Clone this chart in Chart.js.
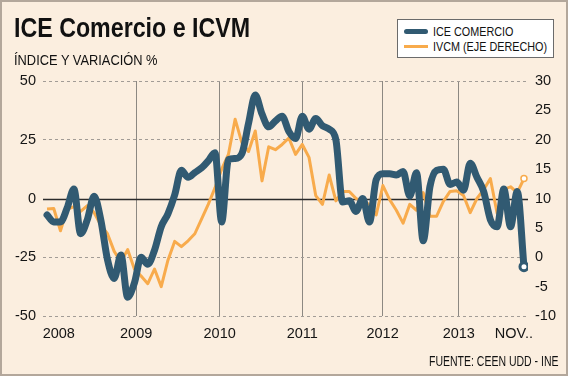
<!DOCTYPE html>
<html>
<head>
<meta charset="utf-8">
<script src="https://cdn.jsdelivr.net/npm/chart.js@4.4.1/dist/chart.umd.min.js"></script>
<style>
  body { margin: 0; background: #fbeedf; overflow: hidden; }
  #wrap { position: relative; width: 568px; height: 376px; background: #fbeedf; }
  #wrap canvas { position: absolute; left: 0; top: 0; }
  .txt { position: absolute; white-space: nowrap; line-height: 1; font-family: "Liberation Sans", Arial, sans-serif; color: #111; transform-origin: 0 0; }
  #frame { position: absolute; left: 0; top: 0; width: 564px; height: 372px; border: 2px solid #b3a79b; pointer-events: none; }
  #legend { position: absolute; left: 397px; top: 19px; width: 155px; height: 37px; background: #fff; border: 1px solid #6b6b6b; }
  .sw { position: absolute; left: 6px; width: 24px; }
</style>
</head>
<body>
<div id="wrap">
  <canvas id="chart" width="568" height="376"></canvas>
  <div class="txt" style="left:14px;top:15px;font-size:27px;font-weight:bold;transform:scaleX(0.86)">ICE Comercio e ICVM</div>
  <div class="txt" style="left:14px;top:52px;font-size:15.3px;transform:scaleX(0.84)">ÍNDICE Y VARIACIÓN %</div>
  <div id="legend">
    <div class="sw" style="top:9px;height:5px;border-radius:3px;background:#315a72"></div>
    <div class="sw" style="top:25px;height:3px;background:#f8ab4c"></div>
  </div>
  <div class="txt" style="left:433px;top:24.5px;font-size:13.5px;transform:scaleX(0.8)">ICE COMERCIO</div>
  <div class="txt" style="left:433px;top:39.5px;font-size:13.5px;transform:scaleX(0.8)">IVCM (EJE DERECHO)</div>
  <div class="txt" style="left:429px;top:352.5px;font-size:15px;transform:scaleX(0.70)">FUENTE: CEEN UDD - INE</div>
  <div id="frame"></div>
</div>
<script>
// months, dic-2007 .. nov-2013
var months = [
  'dic-07',
  'ene-08','feb-08','mar-08','abr-08','may-08','jun-08','jul-08','ago-08','sep-08','oct-08','nov-08','dic-08',
  'ene-09','feb-09','mar-09','abr-09','may-09','jun-09','jul-09','ago-09','sep-09','oct-09','nov-09','dic-09',
  'ene-10','feb-10','mar-10','abr-10','may-10','jun-10','jul-10','ago-10','sep-10','oct-10','nov-10','dic-10',
  'ene-11','feb-11','mar-11','abr-11','may-11','jun-11','jul-11','ago-11','sep-11','oct-11','nov-11','dic-11',
  'ene-12','feb-12','mar-12','abr-12','may-12','jun-12','jul-12','ago-12','sep-12','oct-12','nov-12','dic-12',
  'ene-13','feb-13','mar-13','abr-13','may-13','jun-13','jul-13','ago-13','sep-13','oct-13','nov-13'
];

// ICE Comercio (left axis)
var ice = [
  -7,
  -10, -10, -4, 4, -15, -9, 1, -9, -26, -34, -24, -42,
  -36, -25, -28, -22, -12, -6.5, 1.5, 12, 9, 11, 13, 16,
  19.5, -10, 16.5, 17, 19, 32, 44, 36, 30.5, 33, 35, 28.5,
  25.5, 35, 29.5, 34, 31, 29.5, 25, -1.5, -1, -5.5, 0, -10,
  8, 10.5, 10.5, 10, 11.5, 1, 11, -18, 5, 12, 12.5, 6,
  7, 3.5, 15, 9, 3, -9, -12, 4, -12, 3, -29
];

// IVCM % (right axis)
var ivcm = [
  8.2,
  8.3, 4.5, 8.2, 8.6, 7.8, 8.8, 7.6, 5.5, 4, 1, -0.8, 1.3,
  -2, -3.2, -4.5, -2, -5, -0.5, 2.7, 1.8, 2.8, 4, 6.5, 9,
  11.8, 15, 17.5, 23.5, 19.5, 18, 21.5, 13, 18.8, 18.3, 19.2, 20.3,
  17.5, 19.2, 17, 10.5, 9, 14, 9.6, 11.2, 11.2, 10, 9.5, 9,
  7.2, 12.2, 9.8, 8, 5.8, 9, 8, 11, 7, 7, 9.5, 11.2,
  11.3, 10.5, 7.6, 10, 11.5, 13.4, 7.5, 11.5, 12, 11, 13.4
];

// x tick labels and where they sit (month index)
var xTickLabels = ['2008', '2009', '2010', '2011', '2012', '2013', 'NOV..'];
var xTickAt = [1.75, 13.27, 25.7, 38.0, 49.95, 61.3, 69.5];

var last = months.length - 1;

function toPoints(arr) {
  return arr.map(function (v, i) { return { x: i, y: v }; });
}

var zeroLine = {
  id: 'zeroLine',
  beforeDatasetsDraw: function (chart) {
    var c = chart.ctx, a = chart.chartArea;
    var y = Math.round(chart.scales.y.getPixelForValue(0)) + 0.5;
    c.save();
    c.strokeStyle = '#2b2b2b';
    c.lineWidth = 1.3;
    c.beginPath();
    c.moveTo(a.left, y);
    c.lineTo(a.right, y);
    c.stroke();
    c.restore();
  }
};

var tickFont = { family: 'Liberation Sans', size: 14.5 };

var ctx = document.getElementById('chart').getContext('2d');
var chart = new Chart(ctx, {
  type: 'line',
  data: {
    labels: months,
    datasets: [{
      label: 'ICE COMERCIO',
      data: toPoints(ice),
      yAxisID: 'y',
      borderColor: '#315a72',
      borderWidth: 7,
      borderCapStyle: 'round',
      borderJoinStyle: 'round',
      cubicInterpolationMode: 'monotone',
      pointRadius: function (c) { return c.dataIndex === last ? 4 : 0; },
      pointBackgroundColor: '#ffffff',
      pointBorderColor: '#315a72',
      pointBorderWidth: 3
    }, {
      label: 'IVCM (EJE DERECHO)',
      data: toPoints(ivcm),
      yAxisID: 'y1',
      borderColor: '#f8ab4c',
      borderWidth: 3,
      borderJoinStyle: 'round',
      tension: 0,
      pointRadius: function (c) { return c.dataIndex === last ? 3 : 0; },
      pointBackgroundColor: '#ffffff',
      pointBorderColor: '#f8ab4c',
      pointBorderWidth: 1.5
    }]
  },
  options: {
    responsive: false,
    animation: false,
    devicePixelRatio: 1,
    layout: { padding: { top: 81, left: 0, right: 0, bottom: 0 } },
    plugins: { legend: { display: false }, title: { display: false }, tooltip: { enabled: false } },
    scales: {
      x: {
        type: 'linear',
        min: -0.6,
        max: 71.6,
        afterBuildTicks: function (s) {
          s.ticks = xTickAt.map(function (v) { return { value: v }; });
        },
        afterFit: function (s) { s.height = 60; },
        ticks: {
          autoSkip: false,
          maxRotation: 0,
          padding: 9,
          color: '#151515',
          font: tickFont,
          callback: function (v, i) { return xTickLabels[i]; }
        },
        grid: {
          drawTicks: false,
          lineWidth: 1,
          color: function (c) {
            return (c.index > 0 && c.index < xTickAt.length - 1) ? '#8c8882' : 'rgba(0,0,0,0)';
          }
        },
        border: { display: false }
      },
      y: {
        position: 'left',
        min: -50,
        max: 50,
        afterFit: function (s) { s.width = 43; },
        ticks: { stepSize: 25, padding: 7, color: '#151515', font: tickFont },
        grid: {
          drawTicks: false,
          color: function (c) { return c.tick && c.tick.value === 0 ? 'rgba(0,0,0,0)' : '#a29c96'; }
        },
        border: { display: false, dash: [3, 3] }
      },
      y1: {
        position: 'right',
        min: -10,
        max: 30,
        afterFit: function (s) { s.width = 40; },
        ticks: { stepSize: 5, padding: 7, color: '#151515', font: tickFont },
        grid: { display: false, drawTicks: false },
        border: { display: false }
      }
    }
  },
  plugins: [zeroLine]
});
</script>
</body>
</html>
